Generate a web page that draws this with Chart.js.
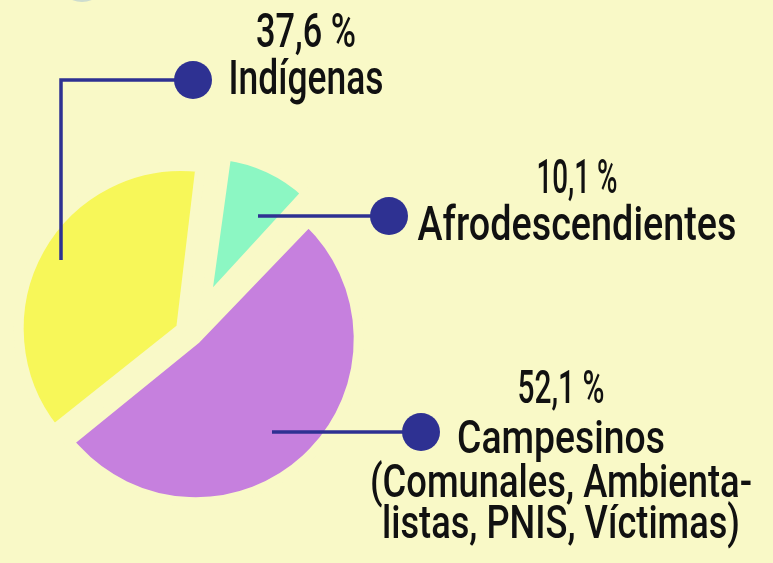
<!DOCTYPE html>
<html>
<head>
<meta charset="utf-8">
<script src="https://cdn.jsdelivr.net/npm/chart.js@4/dist/chart.umd.min.js"></script>
<style>
  html, body { margin: 0; padding: 0; background: #f9f9c7; }
  #wrap { width: 773px; height: 563px; }
</style>
</head>
<body>
<div id="wrap"><canvas id="pieChart" width="773" height="563"></canvas></div>
<script>
const groups = ['Afrodescendientes', 'Campesinos', 'Indígenas'];
const shares = [10.1, 52.1, 37.6];
const shareLabels = ['10,1 %', '52,1 %', '37,6 %'];
const nameLines = [
    ['Afrodescendientes'],
    ['Campesinos', '(Comunales, Ambienta-', 'listas, PNIS, Víctimas)'],
    ['Indígenas']
];

const bg = '#f9f9c7';
const navy = '#2e3192';
const sliceColors = ['#8cf7c3', '#c680de', '#f7f759'];
const sliceOffsets = [140, 28, 45];
const radiusScale = [0.86, 1, 1.02];

// callout layout: dot, leader path, text block (center x, first baseline, widths)
const callouts = [
    { dot: [389, 216], path: [[258, 216], [389, 216]], x: 577, y: 193, steps: [47], widths: [81, 319], size: 49 },
    { dot: [421, 432], path: [[272, 432], [421, 432]], x: 561, y: 403, steps: [50, 44, 41], widths: [87, 208, 382, 358], size: 46 },
    { dot: [193, 80], path: [[61, 260], [61, 80], [193, 80]], x: 306, y: 47, steps: [47], widths: [100, 155], size: 49 }
];

const calloutPlugin = {
    id: 'callouts',
    beforeDraw(chart) {
        // edge of a cut-off shape at the top of the original
        const c = chart.ctx;
        c.save();
        c.fillStyle = '#cddccf';
        c.beginPath();
        c.arc(82, -22, 24, 0, Math.PI * 2);
        c.fill();
        c.restore();
    },
    beforeDatasetsDraw(chart) {
        const meta = chart.getDatasetMeta(0);
        meta.data.forEach((arc, i) => {
            arc.outerRadius = chart.options.baseRadius * radiusScale[i];
        });
    },
    afterDatasetsDraw(chart) {
        const c = chart.ctx;
        c.save();
        callouts.forEach((co, i) => {
            c.strokeStyle = navy;
            c.lineWidth = 3.5;
            c.beginPath();
            co.path.forEach((p, k) => k ? c.lineTo(p[0], p[1]) : c.moveTo(p[0], p[1]));
            c.stroke();
            c.fillStyle = navy;
            c.beginPath();
            c.arc(co.dot[0], co.dot[1], 19, 0, Math.PI * 2);
            c.fill();

            const lines = [shareLabels[i]].concat(nameLines[i]);
            c.fillStyle = '#111';
            c.textAlign = 'center';
            c.textBaseline = 'alphabetic';
            c.font = '500 ' + co.size + 'px Roboto, "Liberation Sans", sans-serif';
            let y = co.y;
            lines.forEach((t, k) => {
                c.fillText(t, co.x, y, co.widths[k]);
                y += co.steps[k] || 0;
            });
        });
        c.restore();
    }
};

const ctx = document.getElementById('pieChart').getContext('2d');
const pieChart = new Chart(ctx, {
    type: 'pie',
    data: {
        labels: groups,
        datasets: [{
            data: shares,
            backgroundColor: sliceColors,
            borderColor: bg,
            borderWidth: 10,
            borderJoinStyle: 'miter',
            offset: sliceOffsets
        }]
    },
    options: {
        responsive: false,
        animation: false,
        baseRadius: 156,
        radius: 156,
        rotation: 7,
        layout: { padding: { left: 2, right: 393, top: 145, bottom: 40 } },
        plugins: {
            legend: { display: false },
            tooltip: { enabled: false }
        }
    },
    plugins: [calloutPlugin]
});
</script>
</body>
</html>
